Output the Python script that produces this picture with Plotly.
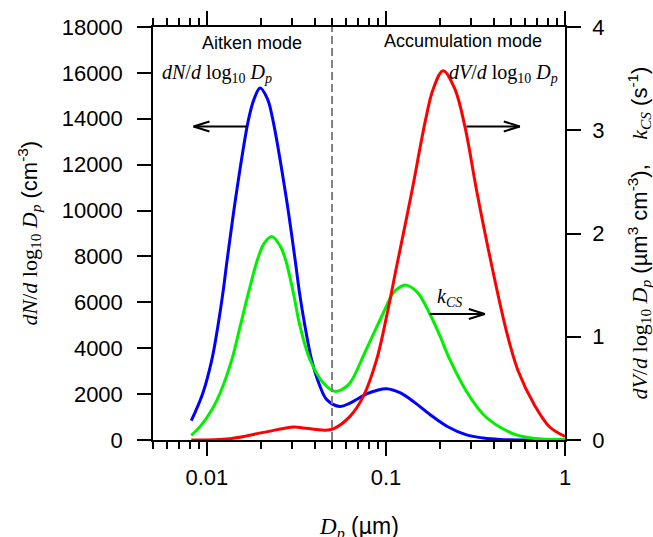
import numpy as np
import plotly.graph_objects as go

# ---- size distributions ----
# number distribution dN/dlog10Dp (cm^-3), left axis
blue_dp = [0.00818, 0.0095, 0.01066, 0.01151, 0.01228, 0.01298, 0.0147, 0.01706,
           0.01836, 0.01982, 0.02178, 0.02322, 0.02769, 0.03109, 0.03293, 0.03533,
           0.03842, 0.04283, 0.0467, 0.05536, 0.063, 0.078, 0.0887, 0.1009,
           0.1197, 0.145, 0.176, 0.22, 0.2818, 0.35, 0.4324, 0.6, 1.0]
blue_dn = [840, 2050, 3500, 4950, 6400, 7860, 10900, 13950,
           14870, 15340, 14870, 14050, 10600, 7860, 6400, 4950,
           3500, 2340, 1760, 1460, 1610, 2010, 2160, 2235,
           2060, 1630, 1110, 590, 225, 85, 25, 3, 0]

# volume distribution dV/dlog10Dp (um^3 cm^-3), right axis
red_dp = [0.00818, 0.01349, 0.02069, 0.0304, 0.03314, 0.0457, 0.0508, 0.063,
          0.0747, 0.0887, 0.1009, 0.1147, 0.139, 0.1664, 0.1836, 0.2087,
          0.2425, 0.2759, 0.3229, 0.3768, 0.4711, 0.5468, 0.6776, 0.8216, 1.0]
red_dv = [0.0, 0.013, 0.074, 0.126, 0.122, 0.095, 0.108, 0.229,
          0.422, 0.778, 1.20, 1.68, 2.392, 3.10, 3.40, 3.577,
          3.40, 3.037, 2.392, 1.811, 1.053, 0.671, 0.335, 0.126, 0.035]

# condensation sink k_CS (s^-1), right axis
green_dp = [0.00818, 0.00918, 0.01066, 0.01186, 0.01378, 0.01533, 0.01706, 0.01915,
            0.02087, 0.02304, 0.02564, 0.02751, 0.03041, 0.03314, 0.0378, 0.0447,
            0.05194, 0.057, 0.063, 0.0764, 0.0966, 0.1098, 0.117, 0.1293,
            0.15, 0.1759, 0.2, 0.2275, 0.2818, 0.3488, 0.4324, 0.5357, 0.6631, 1.0]
green_kcs = [0.045, 0.132, 0.293, 0.455, 0.778, 1.100, 1.424, 1.746,
             1.905, 1.972, 1.88, 1.746, 1.424, 1.100, 0.77, 0.553,
             0.471, 0.49, 0.552, 0.85, 1.230, 1.424, 1.47, 1.50,
             1.43, 1.22, 1.01, 0.778, 0.47, 0.25, 0.125, 0.05, 0.018, 0.004]

mode_split_dp = 0.05          # Aitken / accumulation boundary
x_range_dp = [0.005, 1.0]
left_range = [0, 18000]
right_range = [0, 4]

x_ticks = [0.01, 0.1, 1]
x_ticktext = ["0.01", "0.1", "1"]
x_minor = [m * d for d in (0.001, 0.01, 0.1) for m in range(2, 10) if m * d >= 0.005]

SANS = "Liberation Sans"
SERIF = "Liberation Serif"

fig = go.Figure()

line_w = 3
smooth = 1.0
fig.add_trace(go.Scatter(x=blue_dp, y=blue_dn, mode="lines",
                         line=dict(color="#0000FF", width=line_w, shape="spline", smoothing=smooth), yaxis="y"))
fig.add_trace(go.Scatter(x=green_dp, y=green_kcs, mode="lines",
                         line=dict(color="rgb(0,240,0)", width=line_w, shape="spline", smoothing=smooth), yaxis="y2"))
fig.add_trace(go.Scatter(x=red_dp, y=red_dv, mode="lines",
                         line=dict(color="#FF0000", width=line_w, shape="spline", smoothing=smooth), yaxis="y2"))

# dashed boundary between modes
fig.add_trace(go.Scatter(x=[mode_split_dp, mode_split_dp], y=right_range, mode="lines",
                         line=dict(color="#808080", width=2, dash="8px,4px"), yaxis="y2"))

# ---- arrows pointing to the relevant axis ----
DECADE_PX = 179.3                       # pixels per decade on the x axis
PX_PER_UNIT = {"y": 413.0 / 18000, "y2": 413.0 / 4}
HEAD_LEN, HEAD_HALF = 16, 5


def arrow(x_from, x_to, y, axis):
    fig.add_trace(go.Scatter(x=[x_from, x_to], y=[y, y], mode="lines",
                             line=dict(color="black", width=2), yaxis=axis))
    direction = 1 if x_to > x_from else -1
    back = x_to * 10 ** (-direction * HEAD_LEN / DECADE_PX)
    dy = HEAD_HALF / PX_PER_UNIT[axis]
    fig.add_trace(go.Scatter(x=[back, x_to, back], y=[y + dy, y, y - dy], mode="lines",
                             line=dict(color="black", width=2), yaxis=axis))


arrow(0.0168, 0.00842, 13664, "y")       # number distribution -> left axis
arrow(0.2818, 0.559, 3.037, "y2")        # volume distribution -> right axis
arrow(0.1759, 0.3565, 1.22, "y2")        # k_CS -> right axis

math_dn = f"<span style='font-family:{SERIF}'><i>dN</i>/<i>d</i> log<sub>10</sub> <i>D<sub>p</sub></i></span>"
math_dv = f"<span style='font-family:{SERIF}'><i>dV</i>/<i>d</i> log<sub>10</sub> <i>D<sub>p</sub></i></span>"
math_k = f"<span style='font-family:{SERIF}'><i>k<sub>CS</sub></i></span>"

annotations = [
    dict(text="Aitken mode", x=np.log10(0.01783), y=3.845, xref="x", yref="y2",
         showarrow=False, font=dict(family=SANS, size=18), xanchor="center", yanchor="middle"),
    dict(text="Accumulation mode", x=np.log10(0.2699), y=3.861, xref="x", yref="y2",
         showarrow=False, font=dict(family=SANS, size=18), xanchor="center", yanchor="middle"),
    dict(text=math_dn, x=np.log10(0.00549), y=3.55, xref="x", yref="y2",
         showarrow=False, font=dict(family=SERIF, size=20), xanchor="left", yanchor="middle"),
    dict(text=math_dv, x=np.log10(0.934), y=3.55, xref="x", yref="y2",
         showarrow=False, font=dict(family=SERIF, size=20), xanchor="right", yanchor="middle"),
    dict(text=math_k, x=np.log10(0.2275), y=1.376, xref="x", yref="y2",
         showarrow=False, font=dict(family=SERIF, size=20), xanchor="center", yanchor="middle"),
    # axis titles
    dict(text=math_dn + " (cm<sup>-3</sup>)", x=0, y=0.5, xref="paper", yref="paper",
         xshift=-124, textangle=-90, showarrow=False, font=dict(family=SANS, size=22),
         xanchor="center", yanchor="middle"),
    dict(text=math_dv + " (µm<sup>3</sup> cm<sup>-3</sup>),&nbsp;&nbsp;&nbsp;&nbsp;" + math_k + " (s<sup>-1</sup>)",
         x=1, y=0.5, xref="paper", yref="paper", xshift=74, textangle=-90, showarrow=False,
         font=dict(family=SANS, size=22), xanchor="center", yanchor="middle"),
    dict(text=f"<span style='font-family:{SERIF}'><i>D<sub>p</sub></i></span> (µm)",
         x=0.5, y=0, xref="paper", yref="paper", yshift=-88, showarrow=False,
         font=dict(family=SANS, size=23), xanchor="center", yanchor="middle"),
]

axis_common = dict(showgrid=False, zeroline=False, showline=True, linecolor="black", linewidth=1.5,
                   ticks="outside", ticklen=14, tickwidth=1.5, tickcolor="black",
                   tickfont=dict(family=SANS, size=22, color="black"))

fig.update_layout(
    width=653, height=537,
    margin=dict(l=153, r=88, t=27, b=97),
    paper_bgcolor="white", plot_bgcolor="white",
    font=dict(family=SANS, color="black"),
    showlegend=False,
    xaxis=dict(type="log", range=[np.log10(x_range_dp[0]), np.log10(x_range_dp[1])],
               tickvals=x_ticks, ticktext=x_ticktext, mirror="ticks", ticklabelstandoff=3,
               minor=dict(tickvals=x_minor, ticks="outside", ticklen=7, tickwidth=1.5, tickcolor="black"),
               **axis_common),
    yaxis=dict(range=left_range, dtick=2000, tickformat="d", ticklabelstandoff=10, **axis_common),
    yaxis2=dict(range=right_range, dtick=1, overlaying="y", side="right", ticklabelstandoff=7,
                **axis_common),
    annotations=annotations,
)

fig.write_html("out.html")
